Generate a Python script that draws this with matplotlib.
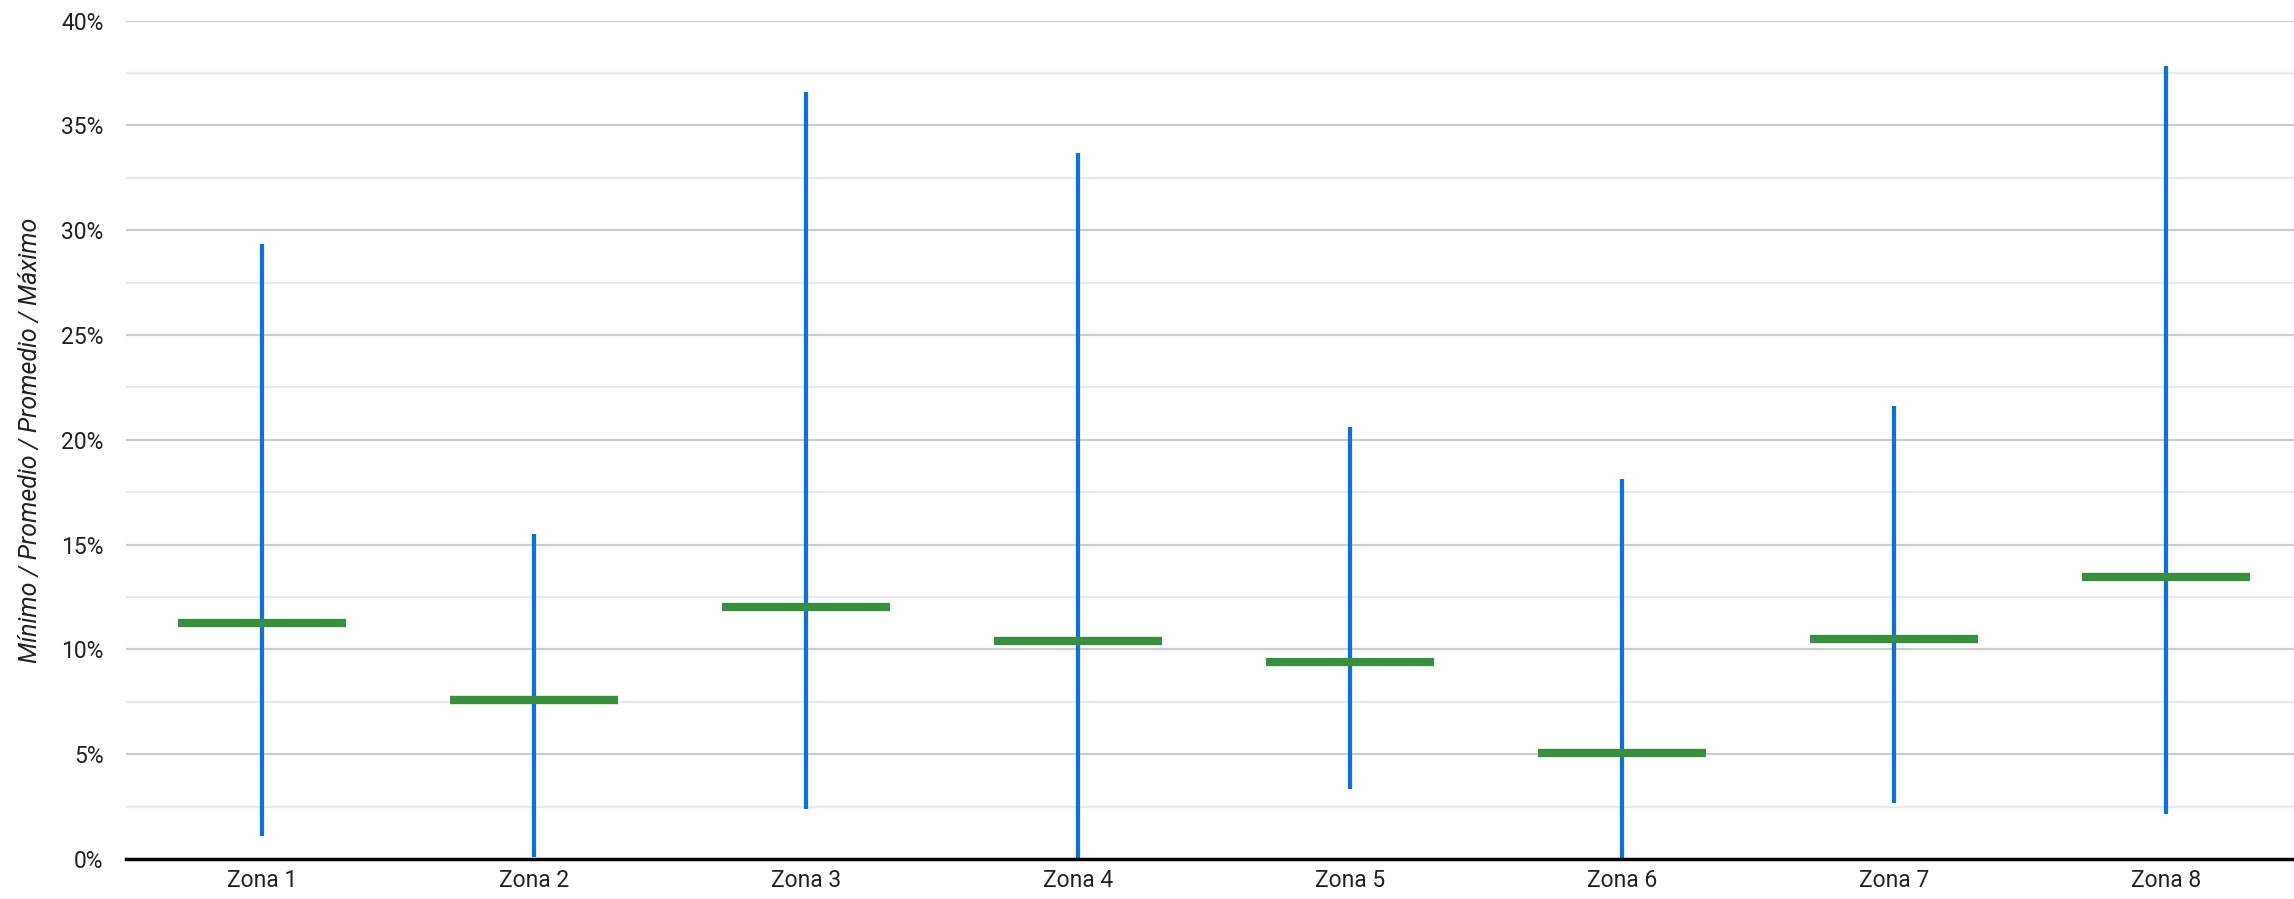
import numpy as np
import matplotlib.pyplot as plt
from matplotlib.ticker import MultipleLocator, FuncFormatter

# ── Data (percent) ───────────────────────────────────────────────────────
zonas = ['Zona 1', 'Zona 2', 'Zona 3', 'Zona 4', 'Zona 5', 'Zona 6', 'Zona 7', 'Zona 8']
minimo = [1.1, 0.1, 2.4, 0.0, 3.35, 0.0, 2.65, 2.15]
maximo = [29.35, 15.5, 36.6, 33.7, 20.6, 18.15, 21.6, 37.85]
promedio = [11.25, 7.6, 12.0, 10.4, 9.4, 5.05, 10.5, 13.45]

plt.rcParams['font.family'] = ['Roboto', 'DejaVu Sans']

fig = plt.figure(figsize=(22.94, 8.99), dpi=100)
ax = fig.add_axes([0.0549, 0.0445, 0.9486, 0.9325])

x = np.arange(len(zonas))

ax.vlines(x, minimo, maximo, color='#0a70e8', lw=3.0, zorder=3)
ax.hlines(promedio, x - 0.31, x + 0.31, color='#3a8f3f', lw=6.0, zorder=4)

ax.set_xlim(-0.5, len(zonas) - 0.5)
ax.set_ylim(0, 40)
ax.set_xticks(x)
ax.set_xticklabels(zonas, fontsize=16.5, color='#222222')

ax.yaxis.set_major_locator(MultipleLocator(5))
ax.yaxis.set_minor_locator(MultipleLocator(2.5))
ax.yaxis.set_major_formatter(FuncFormatter(lambda v, p: f'{v:.0f}%'))
ax.tick_params(axis='y', which='both', length=0, labelsize=16.5, labelcolor='#222222', pad=16)
ax.tick_params(axis='x', length=0, pad=7)

ax.grid(True, which='major', axis='y', color='#cccccc', lw=1.6, zorder=0)
ax.grid(True, which='minor', axis='y', color='#ebebeb', lw=1.6, zorder=0)
ax.set_axisbelow(True)

for side in ['top', 'right', 'left']:
    ax.spines[side].set_visible(False)
ax.spines['bottom'].set_color('black')
ax.spines['bottom'].set_linewidth(2.5)
ax.spines['bottom'].set_zorder(5)

ax.set_ylabel('Mínimo / Promedio / Promedio / Máximo', fontsize=18,
              style='italic', color='#222222', labelpad=14)

fig.savefig('out.png', dpi=100)
